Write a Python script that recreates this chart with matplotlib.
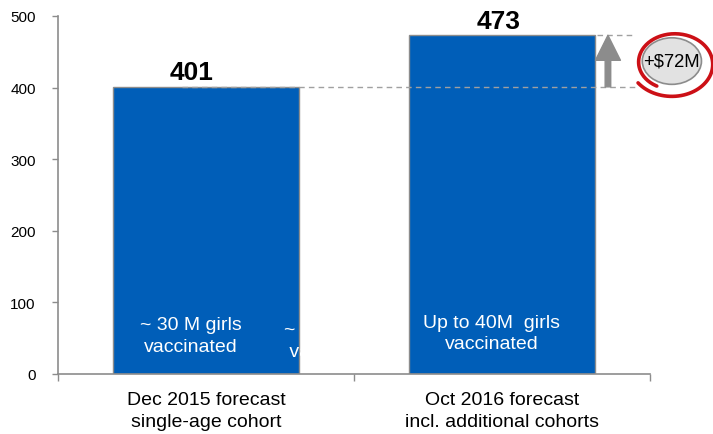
import numpy as np
import matplotlib
matplotlib.use("Agg")
import matplotlib.pyplot as plt
from matplotlib.patches import Ellipse

plt.rcParams["font.family"] = ["Liberation Sans", "DejaVu Sans"]

# ── Data ──────────────────────────────────────────────────
categories = ["Dec 2015 forecast\nsingle-age cohort",
              "Oct 2016 forecast\nincl. additional cohorts"]
values = [401, 473]
bar_notes = ["~ 30 M girls\nvaccinated", "Up to 40M  girls\nvaccinated"]
hidden_note = "~ 35 M girls\n vaccinated"
delta_label = "+$72M"
yticks = [0, 100, 200, 300, 400, 500]

BLUE = "#005EB8"
GREY = "#8C8C8C"
RED = "#CC1016"

fig = plt.figure(figsize=(7.13, 4.35), dpi=100)
ax = fig.add_axes([0.0813, 0.138, 0.8303, 0.823])

x = np.arange(len(values))
ax.bar(x, values, width=0.63, color=BLUE, edgecolor=GREY, linewidth=1.0, zorder=2)

ax.set_xlim(-0.5, 1.5)
ax.set_ylim(0, 500)
ax.set_yticks(yticks)
ax.tick_params(axis="y", length=4, width=1, color=GREY, pad=12, labelsize=11)

# category boundaries as ticks, names as minor ticks without marks
ax.set_xticks([-0.5, 0.5, 1.5])
ax.set_xticklabels([])
ax.tick_params(axis="x", which="major", length=5, width=1, color=GREY)
ax.set_xticks(x, minor=True)
ax.set_xticklabels(categories, minor=True, fontsize=14, linespacing=1.4)
ax.tick_params(axis="x", which="minor", length=0, pad=12)

for s in ["top", "right"]:
    ax.spines[s].set_visible(False)
for s in ["left", "bottom"]:
    ax.spines[s].set_color(GREY)
    ax.spines[s].set_linewidth(1.2)

# value labels
label_shift = [-0.047, -0.01]
for xi, v, dx in zip(x, values, label_shift):
    ax.annotate(f"{v}", (xi + dx, v), xytext=(0, 2), textcoords="offset points",
                ha="center", va="bottom", fontsize=19, fontweight="bold")

# notes inside the bars
ax.text(x[0] - 0.05, 54, bar_notes[0], ha="center", va="center", color="white",
        fontsize=14, linespacing=1.35, zorder=3)
ax.text(x[1] - 0.034, 57, bar_notes[1], ha="center", va="center", color="white",
        fontsize=14, linespacing=1.35, zorder=3)
# white note that only shows where it overlaps the first bar
ax.text(0.2635, 47, hidden_note, ha="left", va="center", color="white",
        fontsize=14, linespacing=1.35, zorder=3)

# dashed guide lines at both bar heights
ax.plot([-0.081, 1.449], [values[0]] * 2, color="#A0A0A0", lw=1.0,
        ls=(0, (4, 3)), zorder=3, clip_on=False)
ax.plot([1.32, 1.449], [values[1]] * 2, color="#A0A0A0", lw=1.0,
        ls=(0, (4, 3)), zorder=3, clip_on=False)

# arrow showing the increase
ax.annotate("", xy=(1.358, values[1]), xytext=(1.358, values[0]),
            arrowprops=dict(arrowstyle="simple,head_length=0.9,head_width=0.9,tail_width=0.2",
                            color=GREY, shrinkA=0, shrinkB=0, mutation_scale=20),
            annotation_clip=False)

# delta bubble with a hand-drawn red loop
cx, cy = 1.574, (values[0] + values[1]) / 2
ax.add_patch(Ellipse((cx, cy), 0.2, 65, facecolor="#E2E2E2", edgecolor=GREY,
                     lw=1.2, clip_on=False, zorder=4))
ax.text(cx, cy, delta_label, ha="center", va="center", fontsize=13.3, zorder=5,
        clip_on=False)

theta = np.linspace(np.radians(215), np.radians(215 + 385), 200)
shrink = np.linspace(1.04, 0.8, theta.size)
rx, ry = 0.14, 46
ax.plot(cx + 0.005 + rx * shrink * np.cos(theta), cy - 3 + ry * shrink * np.sin(theta),
        color=RED, lw=2.6, solid_capstyle="round", clip_on=False, zorder=5)

fig.savefig("out.png", dpi=100)
